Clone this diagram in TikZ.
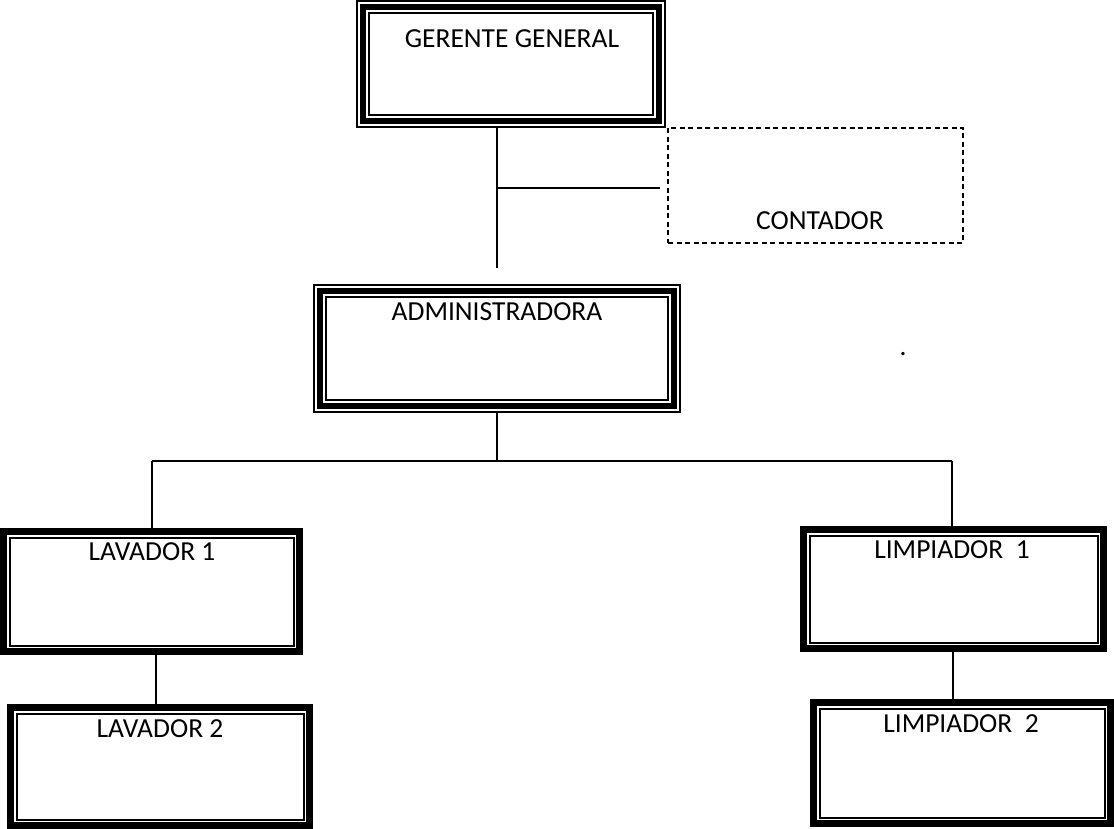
\documentclass[tikz,border=0pt]{standalone}
\usepackage{fontspec}
\setmainfont{Carlito}
\usetikzlibrary{calc}

% Framed boxes: thin-thick-thin and thick-thin borders
\newcommand\tripleframe[1]{%
  \draw[line width=2pt] ($(#1.north west)+(1,1)$) rectangle ($(#1.south east)+(-1,-1)$);
  \draw[line width=6pt] ($(#1.north west)+(7,7)$) rectangle ($(#1.south east)+(-7,-7)$);
  \draw[line width=2pt] ($(#1.north west)+(13,13)$) rectangle ($(#1.south east)+(-13,-13)$);
}
\newcommand\thickthinframe[1]{%
  \draw[line width=7pt] ($(#1.north west)+(3.5,3.5)$) rectangle ($(#1.south east)+(-3.5,-3.5)$);
  \draw[line width=2pt] ($(#1.north west)+(9.5,9.5)$) rectangle ($(#1.south east)+(-9.5,-9.5)$);
}

\begin{document}
\begin{tikzpicture}[x=1pt,y=-1pt,
  box/.style={inner sep=0pt,outer sep=0pt,anchor=north west},
  lbl/.style={font=\fontsize{27.5}{32}\selectfont,anchor=base,inner sep=0pt},
  link/.style={line width=1.4pt},
  dashbox/.style={draw,line width=1.4pt,dash pattern=on 5pt off 3.5pt,inner sep=0pt,outer sep=0pt,anchor=north west}]
\useasboundingbox (0,0) rectangle (1114,829);

% boxes
\node[box,minimum width=310pt,minimum height=128pt] (ger) at (356,0) {};
\node[box,minimum width=368pt,minimum height=129pt] (adm) at (313,284) {};
\node[box,minimum width=303pt,minimum height=127pt] (lav1) at (0,528) {};
\node[box,minimum width=307pt,minimum height=126pt] (lim1) at (800,526) {};
\node[box,minimum width=306pt,minimum height=125pt] (lav2) at (7,704) {};
\node[box,minimum width=304pt,minimum height=128pt] (lim2) at (810,699) {};
\node[dashbox,minimum width=295pt,minimum height=115pt] (cont) at (668,128) {};

\tripleframe{ger}
\tripleframe{adm}
\thickthinframe{lav1}
\thickthinframe{lim1}
\thickthinframe{lav2}
\thickthinframe{lim2}

% labels
\node[lbl] (gerT) at (512,48) {GERENTE GENERAL};
\node[lbl] (admT) at (497,320) {ADMINISTRADORA};
\node[lbl] (lav1T) at (152,560) {LAVADOR 1};
\node[lbl] (lim1T) at (952,558) {LIMPIADOR\ \ 1};
\node[lbl] (lav2T) at (160,737) {LAVADOR 2};
\node[lbl] (lim2T) at (961,732) {LIMPIADOR\ \ 2};
\node[lbl] (contT) at (820,230) {CONTADOR};
\node[lbl] (dot) at (903,355) {.};

% connectors
\coordinate (gerEnd) at (497,268);
\coordinate (gerBr) at (497,188);
\coordinate (contEnd) at (660,188);
\coordinate (busM) at (497,461);
\coordinate (busL) at (152,461);
\coordinate (busR) at (952,461);
\coordinate (lavX) at (156,0);
\coordinate (limX) at (953,0);

\draw[link] (gerEnd |- ger.south) -- (gerEnd);
\draw[link] (gerBr) -- (contEnd);
\draw[link] (adm.south) -- (busM);
\draw[link] (busL) -- (busR);
\draw[link] (busL) -- (busL |- lav1.north);
\draw[link] (busR) -- (busR |- lim1.north);
\draw[link] (lavX |- lav1.south) -- (lavX |- lav2.north);
\draw[link] (limX |- lim1.south) -- (limX |- lim2.north);
\end{tikzpicture}
\end{document}
